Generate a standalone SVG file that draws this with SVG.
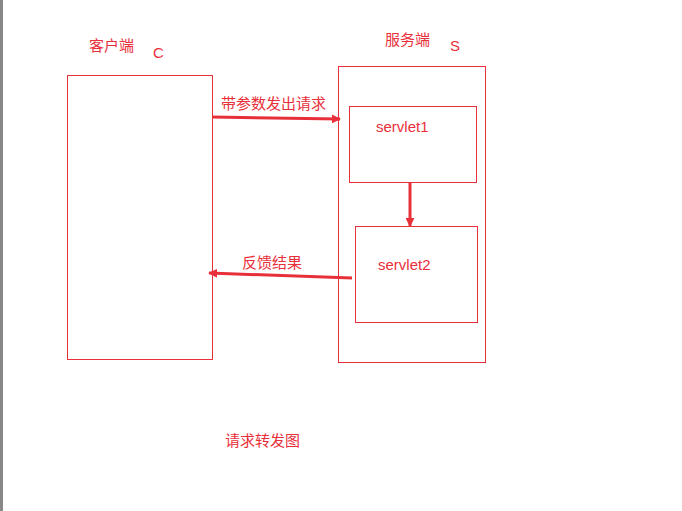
<svg xmlns="http://www.w3.org/2000/svg" width="682" height="511" viewBox="0 0 682 511">
<style>
.box{fill:none;stroke:#e8303a;stroke-width:1}
.t{font-family:"Liberation Sans","Noto Sans CJK SC",sans-serif;font-size:15px;fill:#e8303a}
.c{stroke:#e8303a;stroke-width:3;fill:none}
</style>
<defs>
<marker id="ah" viewBox="0 0 10 10" refX="9" refY="5" markerWidth="3" markerHeight="3" orient="auto"><path d="M0,0L10,5L0,10z" fill="#e8303a"/></marker>
</defs>
<rect width="682" height="511" fill="#fff"/>
<rect x="0" y="0" width="3" height="511" fill="#888"/>
<g id="client"><rect class="box" x="67.5" y="75.5" width="145" height="284"/><text class="t" x="89" y="51">客户端</text><text class="t" x="153" y="58">C</text></g>
<g id="server"><rect class="box" x="338.5" y="66.5" width="147" height="296"/><text class="t" x="385" y="45">服务端</text><text class="t" x="450" y="51">S</text></g>
<g id="servlet1"><rect class="box" x="349.5" y="106.5" width="127" height="76"/><text class="t" x="376" y="132">servlet1</text></g>
<g id="servlet2"><rect class="box" x="355.5" y="226.5" width="122" height="96"/><text class="t" x="378" y="270">servlet2</text></g>
<g id="labels"><text class="t" x="221" y="109">带参数发出请求</text><text class="t" x="242" y="268">反馈结果</text><text class="t" x="225" y="446">请求转发图</text></g>
<g id="connectors">
<path class="c" d="M212,117 L340,119" marker-end="url(#ah)"/>
<path class="c" d="M410,183 L410,226" marker-end="url(#ah)"/>
<path class="c" d="M352,278 L209,273" marker-end="url(#ah)" stroke-width="2.5"/>
</g>
</svg>
